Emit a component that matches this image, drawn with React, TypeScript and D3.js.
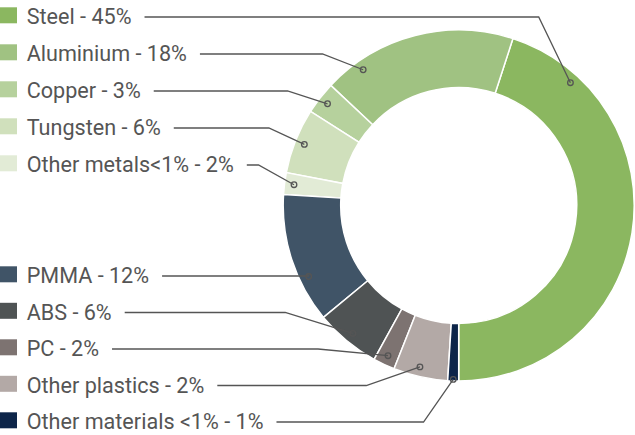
import React, { useLayoutEffect, useRef, useState } from 'react';
import * as d3 from 'd3';

// ---- data ----
const categories = [
  'Steel',
  'Aluminium',
  'Copper',
  'Tungsten',
  'Other metals<1%',
  'PMMA',
  'ABS',
  'PC',
  'Other plastics',
  'Other materials <1%',
];
const labelPercents = [45, 18, 3, 6, 2, 12, 6, 2, 2, 1];
const sliceValues = [45, 18, 3, 6, 2, 12, 6, 2, 5, 1];
const colors = [
  '#8bb760',
  '#a0c282',
  '#b6d19d',
  '#d0e0bc',
  '#e2ebd6',
  '#405467',
  '#4f5354',
  '#7d7371',
  '#b3a9a6',
  '#0d2549',
];

// ---- layout ----
const W = 635;
const H = 435;
const cx = 458.7;
const cy = 205.5;
const outerR = 175.5;
const innerR = 118;
const textX = 26.7;
const rowBaselines = [24, 61, 98, 135, 172, 283, 319.5, 356, 392.5, 429];
const anchorFrac = [0.85, 0.82, 0.5, 0.5, 0.5, 0.67, 0.5, 0.5, 0.45, 0.5];
const anchorR = [166, 166, 166, 166, 166, 166, 166, 166, 166, 174];
const elbowRun = [31.7, 40.7, 40, 35.5, 35.5, 0, 67.7, 70, 53.7, 29.7];
const fontFamily = 'Roboto, "Noto Sans", sans-serif';
const fontSize = 21.6;
const textColor = '#555555';
const lineColor = '#555555';

export default function App() {
  const textRefs = useRef<(SVGTextElement | null)[]>([]);
  const [widths, setWidths] = useState<number[]>(categories.map(() => 100));

  useLayoutEffect(() => {
    const w = textRefs.current.map((t) => (t ? t.getComputedTextLength() : 100));
    setWidths(w);
  }, []);

  const pie = d3
    .pie<number>()
    .sort(null)
    .value((d) => d)
    .startAngle(Math.PI)
    .endAngle(-Math.PI);
  const arcs = pie(sliceValues);
  const arcGen = d3.arc<d3.PieArcDatum<number>>().innerRadius(innerR).outerRadius(outerR);

  return (
    <svg
      width={W}
      height={H}
      style={{ position: 'absolute', left: 0, top: 0, background: '#fff' }}
    >
      <g transform={`translate(${cx},${cy})`}>
        {arcs.map((a, i) => (
          <path key={i} d={arcGen(a) || ''} fill={colors[i]} stroke="#fff" strokeWidth={1.5} />
        ))}
      </g>
      {categories.map((c, i) => {
        const b = rowBaselines[i];
        return (
          <g key={i}>
            <rect x={0} y={b - 16.7} width={17} height={16} fill={colors[i]} />
            <text
              ref={(el) => {
                textRefs.current[i] = el;
              }}
              x={textX}
              y={b}
              fontFamily={fontFamily}
              fontSize={fontSize}
              fill={textColor}
            >
              {`${c} - ${labelPercents[i]}%`}
            </text>
          </g>
        );
      })}
      {arcs.map((a, i) => {
        const ang = a.startAngle + (a.endAngle - a.startAngle) * anchorFrac[i];
        const dx = cx + Math.sin(ang) * anchorR[i];
        const dy = cy - Math.cos(ang) * anchorR[i];
        const ly = rowBaselines[i] - 7;
        const x0 = textX + widths[i] + 13;
        const ex = dx - elbowRun[i];
        return (
          <g key={'l' + i}>
            <polyline
              points={`${x0},${ly} ${ex},${ly} ${dx},${dy}`}
              fill="none"
              stroke={lineColor}
              strokeWidth={1.3}
            />
            <circle cx={dx} cy={dy} r={2.8} fill="none" stroke={lineColor} strokeWidth={1.3} />
          </g>
        );
      })}
    </svg>
  );
}
